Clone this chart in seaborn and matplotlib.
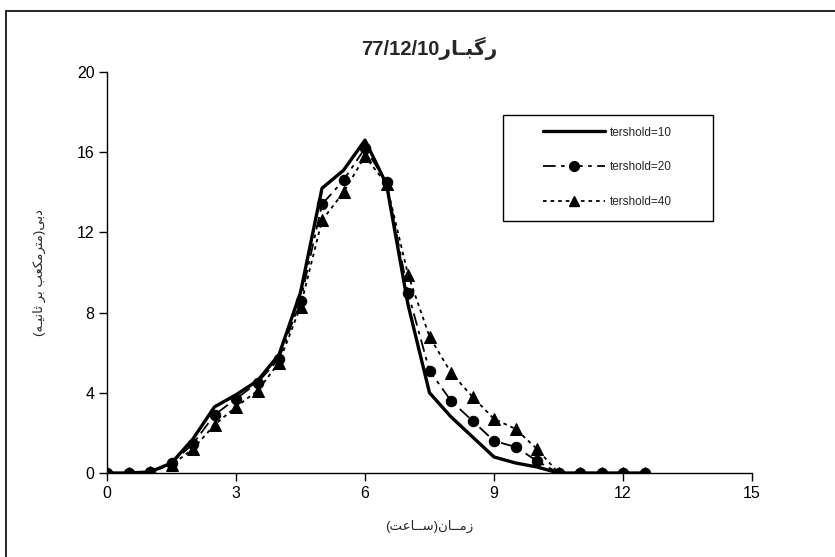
import matplotlib
matplotlib.use("Agg")
import matplotlib.pyplot as plt
from matplotlib.lines import Line2D
from matplotlib.patches import Rectangle
import seaborn as sns
import pandas as pd

# Hydrograph of the 77/12/10 storm for three threshold values
hours = [0, 0.5, 1, 1.5, 2, 2.5, 3, 3.5, 4, 4.5, 5, 5.5, 6, 6.5, 7,
         7.5, 8, 8.5, 9, 9.5, 10, 10.5, 11, 11.5, 12, 12.5]
q_t10 = [0, 0, 0.05, 0.5, 1.7, 3.3, 3.9, 4.6, 5.9, 9.0, 14.2, 15.1, 16.6, 14.4, 8.4,
         4.0, 2.8, 1.8, 0.8, 0.5, 0.3, 0, 0, 0, 0, 0]
q_t20 = [0, 0, 0.05, 0.5, 1.45, 2.9, 3.7, 4.5, 5.7, 8.6, 13.4, 14.6, 16.2, 14.5, 9.0,
         5.1, 3.6, 2.6, 1.6, 1.3, 0.6, 0, 0, 0, 0, 0]
q_t40 = [0, 0, 0.05, 0.4, 1.2, 2.4, 3.3, 4.1, 5.5, 8.3, 12.6, 14.0, 15.8, 14.4, 9.9,
         6.8, 5.0, 3.8, 2.7, 2.2, 1.2, 0, 0, 0, 0, 0]
series_labels = ["tershold=10", "tershold=20", "tershold=40"]
x_ticks = [0, 3, 6, 9, 12, 15]
y_ticks = [0, 4, 8, 12, 16, 20]

# Persian captions written in visual (left-to-right) order with presentation forms
title_text = "77/12/10" + "\uFEAD\uFE8E\u0640\uFE92\uFB94\uFEAD"
xlabel_text = ("(" + "\uFE96\uFECB\uFE8E\u0640\u0640\uFEB3" + ")" +
               "\uFEE5\uFE8E\u0640\u0640\uFEE3\uFEAF")
ylabel_text = ("(" + "\uFEEA\u0640\uFBFF\uFEE7\uFE8E\uFE9B" + " " + "\uFEAE\uFE91" + " " +
               "\uFE90\uFECC\uFB91\uFEE3\uFEAE\uFE98\uFEE3" + ")" + "\uFBFD\uFE91\uFEA9")

sns.set_style("white")
plt.rcParams["font.family"] = ["Liberation Sans", "DejaVu Sans"]

df = pd.DataFrame({"t": hours, "q10": q_t10, "q20": q_t20, "q40": q_t40})

fig = plt.figure(figsize=(8.35, 5.57), dpi=100)
ax = fig.add_axes([107 / 835, 1 - 473 / 557, 645 / 835, 401 / 557])

dot_style = (0, (2, 2.2))
dashdot_style = (0, (7, 3, 2, 3))

sns.lineplot(data=df, x="t", y="q40", ax=ax, color="black", linewidth=1.3,
             linestyle=dot_style, marker="^", markersize=8,
             markerfacecolor="black", markeredgecolor="black", zorder=3)
sns.lineplot(data=df, x="t", y="q20", ax=ax, color="black", linewidth=1.3,
             linestyle=dashdot_style, marker="o", markersize=7.5,
             markerfacecolor="black", markeredgecolor="black", zorder=4)
sns.lineplot(data=df, x="t", y="q10", ax=ax, color="black", linewidth=2.4,
             linestyle="-", zorder=5)

ax.set_xlim(0, 15)
ax.set_ylim(0, 20)
ax.set_xticks(x_ticks)
ax.set_yticks(y_ticks)
ax.tick_params(axis="both", direction="out", length=6, width=1, colors="black",
               labelsize=11.5, bottom=True, left=True, pad=3)
for side in ["top", "right"]:
    ax.spines[side].set_visible(False)
for side in ["left", "bottom"]:
    ax.spines[side].set_color("black")
    ax.spines[side].set_linewidth(1.0)

ax.set_title(title_text, fontsize=14.5, fontweight="bold", pad=12)
ax.set_xlabel(xlabel_text, fontsize=9.5, labelpad=14)
ax.set_ylabel(ylabel_text, fontsize=9.5, labelpad=22)

# Legend box
box_x0, box_y0 = (503 - 107) / 645, (473 - 221) / 401
box_w, box_h = 210 / 645, 106 / 401
ax.add_patch(Rectangle((box_x0, box_y0), box_w, box_h, transform=ax.transAxes,
                       facecolor="white", edgecolor="black", linewidth=1.0,
                       zorder=6, clip_on=False))
handles = [
    Line2D([], [], color="black", linewidth=2.4, linestyle="-"),
    Line2D([], [], color="black", linewidth=1.3, linestyle=dashdot_style,
           marker="o", markersize=7, markerfacecolor="black", markeredgecolor="black"),
    Line2D([], [], color="black", linewidth=1.3, linestyle=dot_style,
           marker="^", markersize=7.5, markerfacecolor="black", markeredgecolor="black"),
]
leg = ax.legend(handles, series_labels, loc="upper left",
                bbox_to_anchor=((532 - 107) / 645, (473 - 116) / 401),
                frameon=False, fontsize=8.5, handlelength=5.3, handletextpad=0.4,
                labelspacing=1.92, borderpad=0.4)
leg.set_zorder(7)

# Outer chart frame
fig.add_artist(Line2D([6 / 835, 1.0], [1 - 11 / 557, 1 - 11 / 557],
                      transform=fig.transFigure, color="black", linewidth=1.2))
fig.add_artist(Line2D([6 / 835, 6 / 835], [0.0, 1 - 11 / 557],
                      transform=fig.transFigure, color="black", linewidth=1.2))

fig.savefig("out.png", dpi=100)
